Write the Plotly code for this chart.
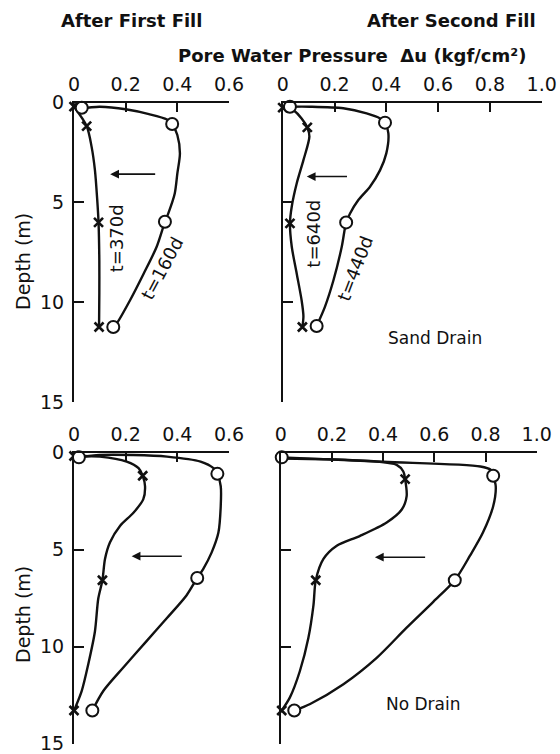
import plotly.graph_objects as go

# ---------------- data (pore water pressure kgf/cm2 vs depth m) ----------------
# Top-left: sand drain, after first fill
tl_160_curve_p = [0.0, 0.03, 0.10, 0.20, 0.29, 0.36, 0.38, 0.40, 0.41, 0.40, 0.39, 0.365, 0.352, 0.32, 0.27, 0.217, 0.165, 0.152]
tl_160_curve_d = [0.05, 0.25, 0.2, 0.33, 0.57, 0.84, 1.07, 1.62, 2.54, 3.55, 4.55, 5.55, 5.97, 7.22, 8.56, 9.9, 11.07, 11.24]
tl_160_pts_p = [0.03, 0.38, 0.352, 0.152]
tl_160_pts_d = [0.25, 1.07, 5.97, 11.24]
tl_370_curve_p = [0.0, 0.049, 0.068, 0.081, 0.09, 0.095, 0.098, 0.098, 0.097]
tl_370_curve_d = [0.2, 1.17, 2.2, 3.38, 4.88, 6.0, 7.9, 9.56, 11.24]
tl_370_pts_p = [0.0, 0.049, 0.095, 0.097]
tl_370_pts_d = [0.2, 1.17, 6.0, 11.24]

# Top-right: sand drain, after second fill
tr_440_curve_p = [0.028, 0.105, 0.234, 0.324, 0.376, 0.395, 0.408, 0.40, 0.376, 0.337, 0.292, 0.26, 0.245, 0.228, 0.196, 0.163, 0.131]
tr_440_curve_d = [0.2, 0.2, 0.28, 0.54, 0.79, 1.0, 1.54, 2.54, 3.38, 4.21, 4.88, 5.55, 6.0, 7.22, 8.9, 10.23, 11.19]
tr_440_pts_p = [0.028, 0.395, 0.245, 0.131]
tr_440_pts_d = [0.2, 1.0, 6.0, 11.19]
tr_640_curve_p = [0.0, 0.015, 0.041, 0.073, 0.095, 0.103, 0.08, 0.054, 0.035, 0.028, 0.035, 0.054, 0.073, 0.08, 0.076]
tr_640_curve_d = [0.25, 0.2, 0.37, 0.79, 1.24, 1.7, 2.88, 4.05, 5.2, 6.05, 7.22, 8.56, 9.9, 10.7, 11.24]
tr_640_pts_p = [0.0, 0.095, 0.028, 0.076]
tr_640_pts_d = [0.25, 1.24, 6.05, 11.24]

# Bottom-left: no drain, after first fill
bl_c_curve_p = [0.019, 0.10, 0.23, 0.36, 0.49, 0.54, 0.555, 0.568, 0.568, 0.559, 0.533, 0.50, 0.477, 0.436, 0.359, 0.28, 0.19, 0.114, 0.071]
bl_c_curve_d = [0.24, 0.12, 0.12, 0.2, 0.46, 0.8, 1.09, 1.73, 2.76, 4.12, 5.14, 6.0, 6.46, 7.35, 8.54, 9.73, 11.09, 12.28, 13.3]
bl_c_pts_p = [0.019, 0.555, 0.477, 0.071]
bl_c_pts_d = [0.24, 1.09, 6.46, 13.3]
bl_x_curve_p = [0.0, 0.10, 0.204, 0.25, 0.266, 0.275, 0.268, 0.23, 0.178, 0.139, 0.12, 0.11, 0.094, 0.081, 0.055, 0.03, 0.0]
bl_x_curve_d = [0.17, 0.2, 0.46, 0.8, 1.19, 1.73, 2.41, 3.1, 3.78, 4.63, 5.48, 6.58, 7.52, 9.22, 10.92, 12.28, 13.3]
bl_x_pts_p = [0.0, 0.266, 0.11, 0.0]
bl_x_pts_d = [0.17, 1.19, 6.58, 13.3]

# Bottom-right: no drain, after second fill
br_c_curve_p = [0.004, 0.40, 0.78, 0.82, 0.83, 0.84, 0.83, 0.79, 0.74, 0.68, 0.596, 0.49, 0.375, 0.245, 0.115, 0.053]
br_c_curve_d = [0.24, 0.47, 0.71, 0.88, 1.19, 1.73, 2.76, 4.12, 5.3, 6.58, 7.69, 9.05, 10.58, 11.94, 12.96, 13.3]
br_c_pts_p = [0.004, 0.83, 0.68, 0.053]
br_c_pts_d = [0.24, 1.19, 6.58, 13.3]
br_x_curve_p = [0.0, 0.18, 0.375, 0.453, 0.479, 0.486, 0.492, 0.473, 0.414, 0.31, 0.219, 0.167, 0.137, 0.128, 0.108, 0.075, 0.036, 0.004]
br_x_curve_d = [0.3, 0.34, 0.46, 0.63, 0.97, 1.36, 2.24, 2.93, 3.6, 4.29, 4.8, 5.48, 6.58, 7.86, 9.56, 11.26, 12.62, 13.3]
br_x_pts_p = [-0.031, 0.486, 0.137, 0.004]
br_x_pts_d = [0.32, 1.36, 6.58, 13.3]

x_ticks_short = [0, 0.2, 0.4, 0.6]
x_ticks_short_text = ["0", "0.2", "0.4", "0.6"]
x_ticks_long = [0, 0.2, 0.4, 0.6, 0.8, 1.0]
x_ticks_long_text = ["0", "0.2", "0.4", "0.6", "0.8", "1.0"]
depth_ticks = [0, 5, 10, 15]
depth_ticks_text = ["0", "5", "10", "15"]

# ---------------- figure ----------------
W, H = 560, 754
FONT = "DejaVu Sans"
INK = "#111111"

fig = go.Figure()

def add_panel(ax, curves, pts):
    xa = "x" if ax == 1 else f"x{ax}"
    ya = "y" if ax == 1 else f"y{ax}"
    for cp, cd in curves:
        fig.add_trace(go.Scatter(x=cp, y=cd, mode="lines", xaxis=xa, yaxis=ya,
                                 line=dict(color=INK, width=2.4, shape="spline", smoothing=0.8),
                                 showlegend=False, hoverinfo="skip"))
    for (pp, pd_, sym) in pts:
        if sym == "o":
            mk = dict(symbol="circle", size=12, color="white", line=dict(color=INK, width=2))
        else:
            mk = dict(symbol="x-thin-open", size=9, color=INK, line=dict(color=INK, width=2.6))
        fig.add_trace(go.Scatter(x=pp, y=pd_, mode="markers", xaxis=xa, yaxis=ya,
                                 marker=mk, cliponaxis=False, showlegend=False))

add_panel(1, [(tl_160_curve_p, tl_160_curve_d), (tl_370_curve_p, tl_370_curve_d)],
          [(tl_370_pts_p, tl_370_pts_d, "x"), (tl_160_pts_p, tl_160_pts_d, "o")])
add_panel(2, [(tr_440_curve_p, tr_440_curve_d), (tr_640_curve_p, tr_640_curve_d)],
          [(tr_640_pts_p, tr_640_pts_d, "x"), (tr_440_pts_p, tr_440_pts_d, "o")])
add_panel(3, [(bl_c_curve_p, bl_c_curve_d), (bl_x_curve_p, bl_x_curve_d)],
          [(bl_x_pts_p, bl_x_pts_d, "x"), (bl_c_pts_p, bl_c_pts_d, "o")])
add_panel(4, [(br_c_curve_p, br_c_curve_d), (br_x_curve_p, br_x_curve_d)],
          [(br_x_pts_p, br_x_pts_d, "x"), (br_c_pts_p, br_c_pts_d, "o")])

def px_x(v):
    return v / W

def px_y(v):
    return 1 - v / H

def xaxis(dom, xmax, tv, tt, anchor):
    return dict(domain=dom, range=[0, xmax], side="top", anchor=anchor, automargin=False,
                showline=True, linecolor=INK, linewidth=2, mirror=False,
                ticks="inside", ticklen=9, tickwidth=2, tickcolor=INK,
                tickvals=tv, ticktext=tt, showgrid=False, zeroline=False,
                ticklabeloverflow="allow",
                tickfont=dict(family=FONT, size=19, color=INK), ticklabelstandoff=2)

def yaxis(dom, anchor, labels):
    return dict(domain=dom, range=[15, 0], anchor=anchor, automargin=False,
                showline=True, linecolor=INK, linewidth=2, mirror=False,
                ticks="inside", ticklen=10, tickwidth=2, tickcolor=INK,
                tickvals=depth_ticks, ticktext=depth_ticks_text if labels else None,
                showticklabels=labels, showgrid=False, zeroline=False,
                ticklabeloverflow="allow",
                tickfont=dict(family=FONT, size=19, color=INK), ticklabelstandoff=4)

top_y = [px_y(402), px_y(102.7)]
bot_y = [px_y(743.5), px_y(452.7)]

fig.update_layout(
    width=W, height=H, margin=dict(l=0, r=0, t=0, b=0, autoexpand=False),
    paper_bgcolor="white", plot_bgcolor="white",
    font=dict(family=FONT, color=INK),
    xaxis=xaxis([px_x(74), px_x(229)], 0.6, x_ticks_short, x_ticks_short_text, "y"),
    yaxis=yaxis(top_y, "x", True),
    xaxis2=xaxis([px_x(282.7), px_x(541.7)], 1.0, x_ticks_long, x_ticks_long_text, "y2"),
    yaxis2=yaxis(top_y, "x2", False),
    xaxis3=xaxis([px_x(74), px_x(229)], 0.6, x_ticks_short, x_ticks_short_text, "y3"),
    yaxis3=yaxis(bot_y, "x3", True),
    xaxis4=xaxis([px_x(280.7), px_x(536.7)], 1.0, x_ticks_long, x_ticks_long_text, "y4"),
    yaxis4=yaxis(bot_y, "x4", False),
)

anns = []
C = dict(xanchor="center", yanchor="middle", showarrow=False)
# titles
anns.append(dict(text="After First Fill", x=px_x(131), y=px_y(20), xref="paper", yref="paper",
                 font=dict(size=18, family=FONT, weight="bold"), **C))
anns.append(dict(text="After Second Fill", x=px_x(451), y=px_y(20), xref="paper", yref="paper",
                 font=dict(size=18, family=FONT, weight="bold"), **C))
anns.append(dict(text="Pore Water Pressure  \u0394u (kgf/cm\u00b2)", x=px_x(352), y=px_y(55),
                 xref="paper", yref="paper", font=dict(size=18, family=FONT, weight="bold"), **C))
for yc in (262, 615):
    anns.append(dict(text="Depth (m)", x=px_x(23), y=px_y(yc), xref="paper", yref="paper",
                     textangle=-90, font=dict(size=19, family=FONT), **C))

# curve labels
anns.append(dict(text="t=370d", x=0.166, y=6.8, xref="x", yref="y",
                 textangle=-90, font=dict(size=18, family=FONT), **C))
anns.append(dict(text="t=160d", x=0.34, y=8.3, xref="x", yref="y",
                 textangle=-62, font=dict(size=18, family=FONT), **C))
anns.append(dict(text="t=640d", x=0.118, y=6.55, xref="x2", yref="y2",
                 textangle=-90, font=dict(size=18, family=FONT), **C))
anns.append(dict(text="t=440d", x=0.279, y=8.3, xref="x2", yref="y2",
                 textangle=-69, font=dict(size=18, family=FONT), **C))
anns.append(dict(text="Sand Drain", x=0.588, y=11.8, xref="x2", yref="y2",
                 font=dict(size=17, family=FONT), **C))
anns.append(dict(text="No Drain", x=0.556, y=12.97, xref="x4", yref="y4",
                 font=dict(size=17, family=FONT), **C))

# arrows (direction of dissipation)
for (xa, ya, x0, x1, d) in [("x", "y", 0.32, 0.14, 3.58), ("x2", "y2", 0.254, 0.093, 3.7),
                            ("x3", "y3", 0.423, 0.223, 5.34), ("x4", "y4", 0.57, 0.368, 5.39)]:
    anns.append(dict(x=x1, y=d, ax=x0, ay=d, xref=xa, yref=ya, axref=xa, ayref=ya,
                     showarrow=True, arrowhead=2, arrowsize=1.1, arrowwidth=1.6,
                     arrowcolor=INK, standoff=0, text=""))

fig.update_layout(annotations=anns)
fig.write_html("out.html")
